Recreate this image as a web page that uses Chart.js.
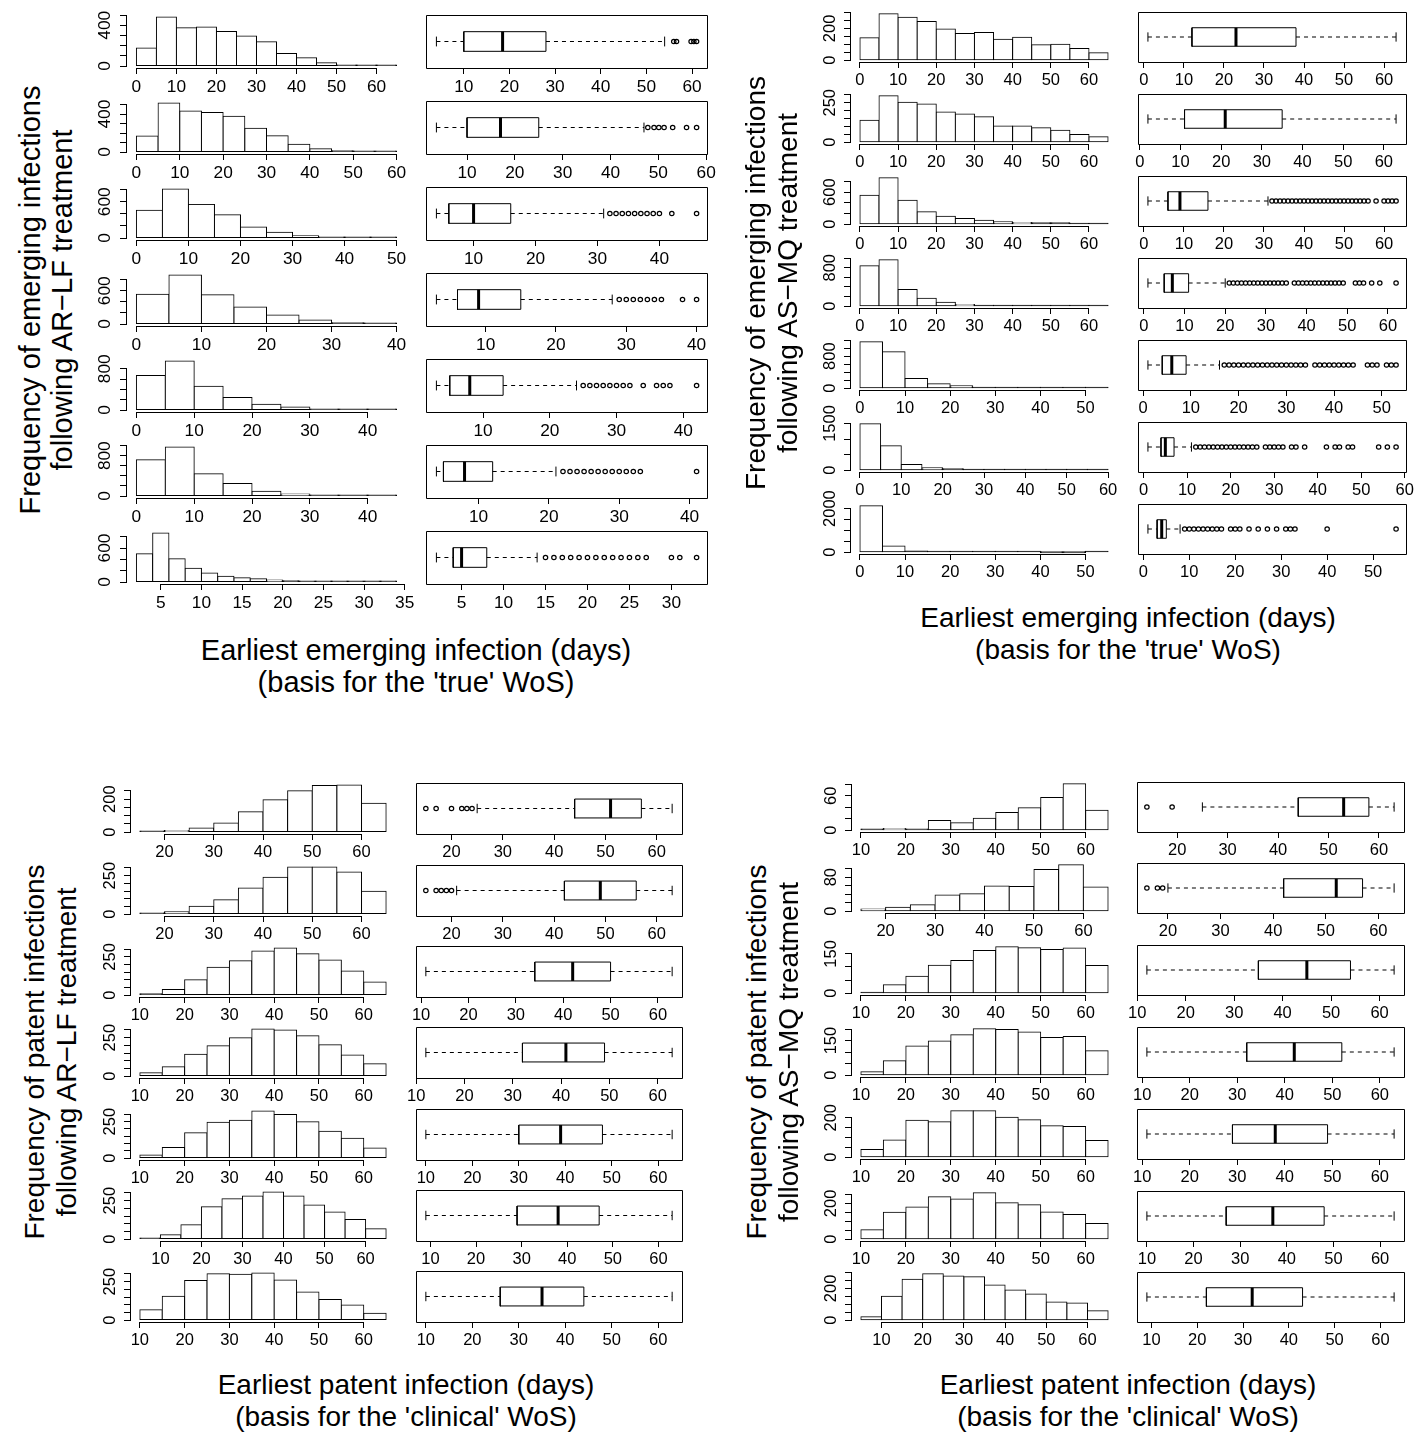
<!DOCTYPE html>
<html>
<head>
<meta charset="utf-8">
<script src="https://cdn.jsdelivr.net/npm/chart.js@4.4.1/dist/chart.umd.min.js"></script>
<style>
  body { margin: 0; background: #fff; }
  #fig { position: relative; width: 1426px; height: 1432px; overflow: hidden;
         font-family: "Liberation Sans", Arial, Helvetica, sans-serif; color: #000; }
  #fig canvas { position: absolute; }
  .lab { position: absolute; white-space: nowrap; line-height: 1; transform: translate(-50%, -50%); }
  .lab.vert { transform: translate(-50%, -50%) rotate(-90deg); }
</style>
</head>
<body>
<div id="fig"></div>
<script>
// ---- earliest emerging infection, AR-LF ----
const emArlfStart = [0, 0, 0, 0, 0, 0, 2];
const emArlfBin = [5, 5, 5, 5, 5, 5, 2];
const emArlfCounts = [
  [177, 482, 377, 384, 339, 294, 239, 123, 81, 32, 10, 4, 3],
  [168, 518, 432, 418, 379, 250, 171, 82, 36, 14, 7, 4],
  [461, 811, 556, 383, 183, 94, 39, 17, 6, 5],
  [539, 885, 527, 309, 164, 73, 24, 6],
  [671, 951, 463, 241, 111, 59, 20, 6, 3],
  [720, 973, 440, 247, 93, 40, 13, 3, 1],
  [499, 866, 410, 243, 160, 101, 77, 59, 36, 24, 18, 12, 9, 6, 3, 3]
];
const emArlfYLabels = [[0, 400], [0, 400], [0, 600], [0, 600], [0, 800], [0, 800], [0, 600]];
// lower whisker, lower hinge, median, upper hinge, upper whisker
const emArlfBox = [
  [4, 10, 18.5, 28, 54],
  [3.6, 10, 17, 25, 47],
  [4, 6, 10, 16, 31],
  [3, 6, 9, 15, 28],
  [3, 5, 8, 13, 24],
  [4, 5, 8, 12, 21],
  [2, 4, 5, 8, 14]
];
const emArlfOut = [
  [56, 56.6, 59.8, 60.4, 61],
  [47.8, 49.1, 50.1, 51.2, 53, 55.9, 58],
  [32, 33, 34, 35, 36, 37, 38, 39, 40, 42, 46],
  [29, 30, 31, 32, 33, 34, 35, 38, 40],
  [25, 26, 27, 28, 29, 30, 31, 32, 34, 36, 37, 38, 42],
  [22, 23, 24, 25, 26, 27, 28, 29, 30, 31, 32, 33, 41],
  [15, 16, 17, 18, 19, 20, 21, 22, 23, 24, 25, 26, 27, 30, 31, 33]
];

// ---- earliest emerging infection, AS-MQ ----
const emAsmqStart = [0, 0, 0, 0, 0, 0, 0];
const emAsmqBin = [5, 5, 5, 5, 5, 5, 5];
const emAsmqCounts = [
  [141, 292, 271, 244, 197, 168, 174, 132, 145, 97, 101, 74, 46],
  [139, 294, 254, 242, 191, 179, 162, 103, 103, 92, 76, 48, 34],
  [544, 869, 450, 231, 150, 106, 75, 44, 31, 25, 25, 12, 6],
  [840, 965, 345, 166, 83, 34, 21, 14, 14, 7, 7, 4, 3],
  [1158, 908, 242, 108, 58, 25, 17, 8, 4, 3, 2],
  [1488, 782, 182, 75, 43, 32, 21, 11, 10, 5, 4, 3],
  [2125, 281, 47, 23, 12, 8, 5, 1, 0, 0, 1]
];
const emAsmqYLabels = [[0, 200], [0, 250], [0, 600], [0, 800], [0, 800], [0, 1500], [0, 2000]];
const emAsmqBox = [
  [1, 12, 23, 38, 63],
  [2, 11, 21, 35, 63],
  [1, 6, 9, 16, 31],
  [1, 5, 7, 11, 20],
  [1, 4, 6, 9, 16],
  [1, 4, 5, 7, 11],
  [1, 3, 4, 5, 8]
];
const emAsmqOut = [
  [],
  [],
  [32, 33, 34, 35, 36, 37, 38, 39, 40, 41, 42, 43, 44, 45, 46, 47, 48, 49, 50, 51, 52, 53, 54, 55, 56, 58, 60, 61, 62, 63],
  [21, 22, 23, 24, 25, 26, 27, 28, 29, 30, 31, 32, 33, 34, 35, 37, 38, 39, 40, 41, 42, 43, 44, 45, 46, 47, 48, 49, 52, 53, 54, 56, 58, 62],
  [17, 18, 19, 20, 21, 22, 23, 24, 25, 26, 27, 28, 29, 30, 31, 32, 33, 34, 36, 37, 38, 39, 40, 41, 42, 43, 44, 47, 48, 49, 51, 52, 53],
  [12, 13, 14, 15, 16, 17, 18, 19, 20, 21, 22, 23, 24, 25, 26, 28, 29, 30, 31, 32, 34, 35, 37, 42, 44, 45, 47, 48, 54, 56, 58],
  [9, 10, 11, 12, 13, 14, 15, 16, 17, 19, 20, 21, 23, 25, 27, 29, 31, 32, 33, 40, 55]
];

// ---- earliest patent infection, AR-LF ----
const patArlfStart = [15, 15, 10, 10, 10, 5, 10];
const patArlfBin = [5, 5, 5, 5, 5, 5, 5];
const patArlfCounts = [
  [6, 10, 25, 55, 123, 197, 252, 283, 287, 176],
  [4, 16, 51, 93, 169, 240, 307, 307, 273, 149],
  [9, 36, 101, 182, 225, 288, 309, 270, 230, 158, 86],
  [22, 61, 142, 197, 250, 307, 300, 263, 204, 138, 81],
  [21, 73, 174, 246, 260, 324, 300, 249, 185, 136, 70],
  [2, 29, 93, 211, 262, 280, 307, 280, 222, 176, 127, 67],
  [68, 155, 257, 302, 298, 307, 261, 182, 134, 98, 45]
];
const patArlfYLabels = [[0, 200], [0, 250], [0, 250], [0, 250], [0, 250], [0, 250], [0, 250]];
const patArlfBox = [
  [25, 44, 51, 57, 63],
  [21, 42, 49, 56, 63],
  [11, 34, 42, 50, 63],
  [12, 32, 41, 49, 63],
  [10, 30, 39, 48, 63],
  [9, 29, 38, 47, 63],
  [10, 26, 35, 44, 63]
];
const patArlfOut = [
  [15, 17, 20, 22, 23, 24],
  [15, 17, 18, 19, 20],
  [], [], [], [], []
];

// ---- earliest patent infection, AS-MQ ----
const patAsmqStart = [10, 15, 10, 10, 10, 10, 5];
const patAsmqBin = [5, 5, 5, 5, 5, 5, 5];
const patAsmqCounts = [
  [2, 3, 2, 17, 13, 21, 31, 39, 57, 81, 35],
  [5, 9, 15, 38, 41, 59, 58, 98, 109, 57],
  [3, 32, 65, 107, 125, 163, 177, 174, 167, 173, 106],
  [15, 63, 127, 148, 175, 201, 198, 187, 163, 168, 106],
  [39, 87, 187, 180, 235, 235, 202, 190, 160, 155, 84],
  [53, 150, 180, 237, 224, 259, 204, 193, 152, 138, 88],
  [21, 150, 258, 292, 279, 273, 221, 190, 165, 115, 108, 60]
];
const patAsmqYLabels = [[0, 60], [0, 80], [0, 150], [0, 150], [0, 200], [0, 200], [0, 200]];
const patAsmqBox = [
  [25, 44, 53, 58, 63],
  [20, 42, 52, 57, 63],
  [12, 35, 45, 54, 63],
  [11, 32, 42, 52, 63],
  [11, 29, 38, 49, 63],
  [10, 27, 37, 48, 63],
  [9, 22, 32, 43, 63]
];
const patAsmqOut = [
  [14, 19],
  [16, 18, 19],
  [], [], [], [], []
];

const quads = [
  { histLeft: 125.6, boxLeft: 426, width: 280.8, top: 15.3, height: 52.6, step: 86, font: 17.3, gap: 20.5,
    start: emArlfStart, bin: emArlfBin, counts: emArlfCounts, yLabels: emArlfYLabels, box: emArlfBox, out: emArlfOut,
    titleSize: 29, yTitle: ['Frequency of emerging infections', 'following AR\u2212LF treatment'], yTitleX: [30, 62], yTitleY: 300,
    xTitle: ['Earliest emerging infection (days)', "(basis for the 'true' WoS)"], xTitleX: 416, xTitleY: [650, 682] },
  { histLeft: 850.1, boxLeft: 1138, width: 267.8, top: 12.2, height: 50.2, step: 81.9, font: 16.5, gap: 19.5,
    start: emAsmqStart, bin: emAsmqBin, counts: emAsmqCounts, yLabels: emAsmqYLabels, box: emAsmqBox, out: emAsmqOut,
    titleSize: 28, yTitle: ['Frequency of emerging infections', 'following AS\u2212MQ treatment'], yTitleX: [756, 788], yTitleY: 283,
    xTitle: ['Earliest emerging infection (days)', "(basis for the 'true' WoS)"], xTitleX: 1128, xTitleY: [618, 650] },
  { histLeft: 130.1, boxLeft: 415.7, width: 266.4, top: 783.4, height: 50.6, step: 81.3, font: 16.5, gap: 19.5,
    start: patArlfStart, bin: patArlfBin, counts: patArlfCounts, yLabels: patArlfYLabels, box: patArlfBox, out: patArlfOut,
    titleSize: 28, yTitle: ['Frequency of patent infections', 'following AR\u2212LF treatment'], yTitleX: [35, 67], yTitleY: 1052,
    xTitle: ['Earliest patent infection (days)', "(basis for the 'clinical' WoS)"], xTitleX: 406, xTitleY: [1385, 1417] },
  { histLeft: 851.1, boxLeft: 1137.3, width: 267.1, top: 781.5, height: 50.4, step: 81.8, font: 16.5, gap: 19.5,
    start: patAsmqStart, bin: patAsmqBin, counts: patAsmqCounts, yLabels: patAsmqYLabels, box: patAsmqBox, out: patAsmqOut,
    titleSize: 28, yTitle: ['Frequency of patent infections', 'following AS\u2212MQ treatment'], yTitleX: [757, 789], yTitleY: 1052,
    xTitle: ['Earliest patent infection (days)', "(basis for the 'clinical' WoS)"], xTitleX: 1128, xTitleY: [1385, 1417] }
];

const fig = document.getElementById('fig');
const FONT = '"Liberation Sans", Arial, Helvetica, sans-serif';
const PAD = { l: 48, t: 24, r: 26, b: 40 };
Chart.defaults.font.family = FONT;
Chart.defaults.color = '#000';

// R-style axis breaks (pretty with graphics bias)
function pretty(lo, hi) {
  const cell = (hi - lo) / 5;
  const U = Math.pow(10, Math.floor(Math.log10(cell)));
  let unit = U;
  if (2 * U - cell < 0.8 * (cell - unit)) {
    unit = 2 * U;
    if (5 * U - cell < 1.7 * (cell - unit)) {
      unit = 5 * U;
      if (10 * U - cell < 0.8 * (cell - unit)) unit = 10 * U;
    }
  }
  const out = [];
  for (let k = Math.ceil(lo / unit - 1e-9); k * unit <= hi + 1e-9; k++) out.push(k * unit);
  return out;
}
const ext = (a, b) => [a - 0.04 * (b - a), b + 0.04 * (b - a)];
const align = p => Math.round(p - 0.5) + 0.5;

// axis lines from first to last tick, box frame, rotated y labels
const rAxes = {
  id: 'rAxes',
  afterDraw(chart, args, opts) {
    if (!opts || !opts.kind) return;
    const { ctx, chartArea: a } = chart;
    const x = chart.scales.x, y = chart.scales.y;
    ctx.save();
    ctx.strokeStyle = '#000';
    ctx.lineWidth = 1;
    ctx.beginPath();
    const xt = x.ticks.map(t => x.getPixelForValue(t.value));
    ctx.moveTo(align(xt[0]) - 0.5, align(a.bottom));
    ctx.lineTo(align(xt[xt.length - 1]) + 0.5, align(a.bottom));
    if (opts.kind === 'box') {
      ctx.rect(align(a.left), align(a.top), Math.round(a.right - a.left), Math.round(a.bottom - a.top));
    } else {
      const yt = y.ticks.map(t => y.getPixelForValue(t.value));
      ctx.moveTo(align(a.left), align(yt[0]) + 0.5);
      ctx.lineTo(align(a.left), align(yt[yt.length - 1]) - 0.5);
    }
    ctx.stroke();
    if (opts.kind === 'hist') {
      ctx.fillStyle = '#000';
      ctx.font = opts.size + 'px ' + FONT;
      ctx.textAlign = 'center';
      ctx.textBaseline = 'middle';
      opts.labels.forEach(v => {
        ctx.save();
        ctx.translate(a.left - opts.gap, y.getPixelForValue(v));
        ctx.rotate(-Math.PI / 2);
        ctx.fillText(String(v), 0, 0);
        ctx.restore();
      });
    }
    ctx.restore();
  }
};
Chart.register(rAxes);

function canvasAt(left, q, row) {
  const c = document.createElement('canvas');
  const w = Math.round(q.width), h = Math.round(q.height);
  c.width = w + PAD.l + PAD.r;
  c.height = h + PAD.t + PAD.b;
  c.style.left = (Math.round(left) - PAD.l) + 'px';
  c.style.top = (Math.round(q.top + row * q.step) - PAD.t) + 'px';
  fig.appendChild(c);
  return c;
}

function xAxis(min, max, size) {
  return {
    type: 'linear', min, max, offset: false,
    afterBuildTicks: s => { s.ticks = pretty(min, max).map(value => ({ value })); },
    afterFit: s => { s.height = PAD.b; },
    grid: { drawOnChartArea: false, tickLength: 6, color: '#000', tickColor: '#000', offset: false },
    border: { display: false },
    ticks: { autoSkip: false, maxRotation: 0, minRotation: 0, padding: 3, color: '#000',
             font: { size }, callback: v => String(v) }
  };
}

function yAxis(min, max, visible) {
  return {
    type: 'linear', min, max,
    afterBuildTicks: s => { s.ticks = pretty(min, max).filter(v => v >= min).map(value => ({ value })); },
    afterFit: s => { s.width = PAD.l; },
    grid: { display: visible, drawOnChartArea: false, tickLength: 6, color: '#000', tickColor: '#000' },
    border: { display: false },
    ticks: { display: false }
  };
}

function options(scales, rOpts) {
  return {
    responsive: false, animation: false, devicePixelRatio: 1, events: [],
    layout: { padding: { left: 0, top: PAD.t, right: PAD.r, bottom: 0 } },
    plugins: { legend: { display: false }, tooltip: { enabled: false }, rAxes: rOpts },
    scales
  };
}

// bars only a pixel or so tall read as a dark line, like a collapsed outline
function barFill(ctx) {
  const y = ctx.chart.scales.y;
  const v = ctx.parsed ? ctx.parsed.y : 0;
  const h = Math.abs(y.getPixelForValue(v) - y.getPixelForValue(0));
  return h < 1.5 ? '#333' : '#fff';
}

function histPanel(q, r) {
  const counts = q.counts[r];
  const start = q.start[r], bw = q.bin[r];
  const [xmin, xmax] = ext(start, start + bw * counts.length);
  const top = Math.max(...counts);
  new Chart(canvasAt(q.histLeft, q, r), {
    type: 'bar',
    data: {
      datasets: [{
        data: counts.map((c, i) => ({ x: start + bw * (i + 0.5), y: c })),
        backgroundColor: barFill, borderColor: '#000', borderWidth: 1,
        borderSkipped: false, inflateAmount: 0.5, minBarLength: 1,
        barPercentage: 1, categoryPercentage: 1
      }]
    },
    options: options(
      { x: xAxis(xmin, xmax, q.font), y: yAxis(-0.04 * top, 1.04 * top, true) },
      { kind: 'hist', labels: q.yLabels[r], size: q.font, gap: q.gap })
  });
}

function seg(pts, extra) {
  return Object.assign({
    data: pts.map(([x, y]) => ({ x, y })), showLine: true, pointRadius: 0,
    borderColor: '#000', borderWidth: 1, fill: false, tension: 0, borderCapStyle: 'butt'
  }, extra || {});
}

function boxPanel(q, r) {
  const [lo, q1, med, q3, hi] = q.box[r];
  const out = q.out[r];
  const all = [lo, hi].concat(out);
  const [xmin, xmax] = ext(Math.min(...all), Math.max(...all));
  const datasets = [
    seg([[lo, 1], [q1, 1]], { borderDash: [4, 4] }),
    seg([[q3, 1], [hi, 1]], { borderDash: [4, 4] }),
    seg([[lo, 0.9], [lo, 1.1]]),
    seg([[hi, 0.9], [hi, 1.1]]),
    seg([[q1, 0.8], [q3, 0.8], [q3, 1.2], [q1, 1.2], [q1, 0.8]], { borderCapStyle: 'square' }),
    seg([[med, 0.8], [med, 1.2]], { borderWidth: 3 }),
    {
      data: out.map(x => ({ x, y: 1 })), showLine: false, pointStyle: 'circle',
      pointRadius: 2.2, pointBorderWidth: 1.2, pointBorderColor: '#000',
      pointBackgroundColor: 'rgba(0,0,0,0)', borderColor: '#000'
    }
  ];
  new Chart(canvasAt(q.boxLeft, q, r), {
    type: 'scatter',
    data: { datasets },
    options: options(
      { x: xAxis(xmin, xmax, q.font), y: yAxis(0.46, 1.54, false) },
      { kind: 'box' })
  });
}

function label(str, x, y, size, vertical) {
  const d = document.createElement('div');
  d.className = vertical ? 'lab vert' : 'lab';
  d.textContent = str;
  d.style.left = x + 'px';
  d.style.top = y + 'px';
  d.style.fontSize = size + 'px';
  fig.appendChild(d);
}

quads.forEach(q => {
  for (let r = 0; r < 7; r++) {
    histPanel(q, r);
    boxPanel(q, r);
  }
  q.yTitle.forEach((t, i) => label(t, q.yTitleX[i], q.yTitleY, q.titleSize, true));
  q.xTitle.forEach((t, i) => label(t, q.xTitleX, q.xTitleY[i], q.titleSize, false));
});
</script>
</body>
</html>
